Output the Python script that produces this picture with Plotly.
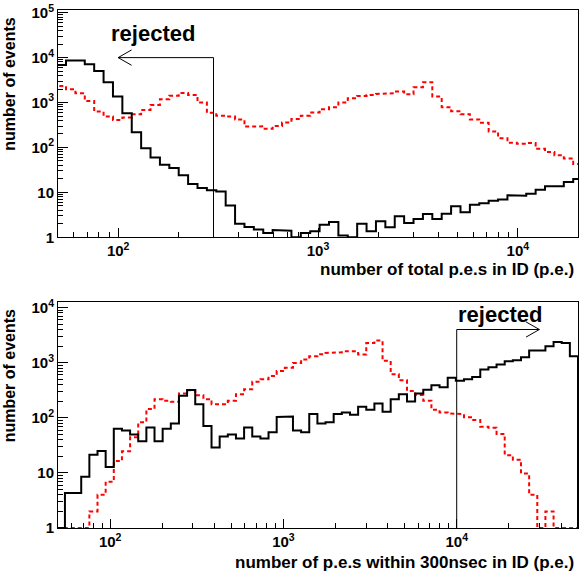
import numpy as np
import plotly.graph_objects as go

FONT = "Liberation Sans, Arial, Helvetica, sans-serif"

# histograms are binned in log10(p.e.) with a fixed step; bin k covers
# [10**(k*BIN_STEP), 10**((k+1)*BIN_STEP)]
BIN_STEP = 0.047

# --- top panel: total p.e.s in ID, first bin k=36 ---
top_first_bin = 36
top_black = [
    6850, 8570, 8570, 7100, 5040, 2830, 1360, 578, 219, 96,
    60, 41, 35, 24, 15.3, 12.5, 11.1, 10.5, 5.1, 2.0,
    1.69, 1.48, 1.25, 1.45, 1.4, 0, 1.25, 1.36, 1.9, 2.19,
    1.1, 1.0, 2.0, 1.36, 2.27, 1.67, 2.93, 2.08, 2.55, 3.3,
    2.55, 3.34, 4.9, 3.6, 5.3, 5.7, 6.5, 6.9, 8.6, 8.4,
    9.3, 11.4, 13.6, 13.6, 16.9, 19.8,
]
top_red = [
    2340, 1975, 1610, 1086, 631, 489, 410, 464, 550, 685,
    885, 1183, 1420, 1620, 1475, 1000, 590, 510, 489, 420,
    293, 295, 259, 300, 360, 430, 510, 600, 710, 787,
    1000, 1247, 1403, 1475, 1550, 1610, 1755, 1530, 2188, 2826,
    1360, 787, 640, 550, 420, 355, 227, 161, 127, 120,
    125, 93, 79, 67, 57, 43,
]

# --- bottom panel: p.e.s within 300 nsec in ID, first bin k=36 ---
bot_first_bin = 36
bot_black = [
    0, 4.3, 4.3, 8.5, 21.4, 24.9, 12.8, 63, 58.6, 49.7,
    37.7, 67, 37.7, 63, 79, 250, 320, 177, 71, 29,
    46, 50, 42, 67, 46, 42, 54.6, 103, 105, 58.6,
    54.6, 117, 79, 83, 117, 125, 114, 158, 140, 182,
    129, 218, 268, 197, 275, 324, 389, 360, 533, 470,
    500, 549, 755, 830, 927, 1064, 1109, 1256, 1656, 1656,
    1982, 2366, 2273, 1309,
]
bot_red = [
    0, 0, 0, 0, 2.0, 4.0, 6.9, 16.4, 24.6, 44.5,
    83, 144, 218, 203, 195, 275, 315, 257, 218, 177,
    177, 203, 268, 330, 452, 499, 571, 703, 807, 991,
    1143, 1309, 1420, 1500, 1545, 1610, 1610, 1403, 2273, 2540,
    1080, 620, 480, 307, 260, 203, 140, 125, 120, 117,
    102, 91, 69, 66, 51, 21, 17.4, 9.8, 4, 0,
    2, 0, 0, 0,
]

# cut values (p.e.) and arrow extents for the "rejected" markers
top_cut, top_arrow_end, top_arrow_level = 300, 100, 1e4
bot_cut, bot_arrow_end, bot_arrow_level = 1e4, 3e4, 4e3

y_floor = 1.0


def step_xy(first_bin, counts):
    edges = 10 ** (BIN_STEP * np.arange(first_bin, first_bin + len(counts) + 1))
    y = np.maximum(np.asarray(counts, dtype=float), y_floor)
    xs = np.repeat(edges, 2)
    ys = np.concatenate([[y_floor], np.repeat(y, 2), [y_floor]])
    return xs, ys


def arrow_xy(cut, end, level, dx, dy):
    # vertical cut line, horizontal arrow and an open arrow head
    sgn = 1 if end > cut else -1
    xs = [cut, cut, end, None, end * 10 ** (-sgn * dx), end, end * 10 ** (-sgn * dx)]
    ys = [y_floor, level, level, None, level * 10 ** dy, level, level / 10 ** dy]
    return xs, ys


fig = go.Figure()

black_line = dict(color="black", width=2)
red_line = dict(color="#ff0000", width=2, dash="4px,3px")

for first, vals, line, xa, ya in [
    (top_first_bin, top_red, red_line, "x", "y"),
    (top_first_bin, top_black, black_line, "x", "y"),
    (bot_first_bin, bot_red, red_line, "x2", "y2"),
    (bot_first_bin, bot_black, black_line, "x2", "y2"),
]:
    xs, ys = step_xy(first, vals)
    fig.add_trace(go.Scatter(x=xs, y=ys, mode="lines", line=line,
                             xaxis=xa, yaxis=ya, showlegend=False, hoverinfo="skip"))

xs, ys = arrow_xy(top_cut, top_arrow_end, top_arrow_level, 0.067, 0.171)
fig.add_trace(go.Scatter(x=xs, y=ys, mode="lines", line=dict(color="black", width=1),
                         xaxis="x", yaxis="y", showlegend=False, hoverinfo="skip"))
xs, ys = arrow_xy(bot_cut, bot_arrow_end, bot_arrow_level, 0.077, 0.138)
fig.add_trace(go.Scatter(x=xs, y=ys, mode="lines", line=dict(color="black", width=1),
                         xaxis="x2", yaxis="y2", showlegend=False, hoverinfo="skip"))


def decade_text(p):
    return {0: "1", 1: "10"}.get(p, f"10<sup>{p}</sup>")


def minor_vals(lo, hi):
    return [m * 10 ** d for d in range(lo, hi) for m in range(2, 10)]


tick_font = dict(family=FONT, size=15, color="black", weight="bold")
common = dict(type="log", showline=True, linecolor="black", linewidth=1, mirror=True,
              ticks="inside", tickcolor="black", showgrid=False, zeroline=False,
              tickfont=tick_font, ticklabeloverflow="allow")

x_major = [2, 3, 4]
y_top_major = [0, 1, 2, 3, 4, 5]
y_bot_major = [0, 1, 2, 3, 4]

xaxis_ticks = dict(tickmode="array", tickvals=[10 ** p for p in x_major],
                   ticktext=[decade_text(p) for p in x_major], ticklen=9,
                   minor=dict(ticks="inside", ticklen=5, tickcolor="black",
                              tickmode="array", tickvals=minor_vals(1, 5), showgrid=False))

fig.update_layout(
    width=581, height=573,
    margin=dict(l=58, r=2, t=6, b=45),
    paper_bgcolor="white", plot_bgcolor="white",
    xaxis=dict(**common, **xaxis_ticks, domain=[0, 1], anchor="y",
               range=[np.log10(50), np.log10(2e4)]),
    yaxis=dict(**common, domain=[0.5613, 1], anchor="x", range=[0, 5.06],
               tickmode="array", tickvals=[10 ** p for p in y_top_major],
               ticktext=[decade_text(p) for p in y_top_major], ticklen=10,
               minor=dict(ticks="inside", ticklen=5, tickcolor="black",
                          tickmode="array", tickvals=minor_vals(0, 5), showgrid=False)),
    xaxis2=dict(**common, **xaxis_ticks, domain=[0, 1], anchor="y2",
                range=[np.log10(50), 4.7]),
    yaxis2=dict(**common, domain=[0, 0.4368], anchor="x2", range=[0, 4.106],
                tickmode="array", tickvals=[10 ** p for p in y_bot_major],
                ticktext=[decade_text(p) for p in y_bot_major], ticklen=10,
                minor=dict(ticks="inside", ticklen=5, tickcolor="black",
                           tickmode="array", tickvals=minor_vals(0, 4), showgrid=False)),
)

title_font = dict(family=FONT, size=16, color="black", weight="bold")
label_font = dict(family=FONT, size=22, color="black", weight="bold")
annotations = [
    dict(text="number of events", xref="paper", yref="paper", x=-0.094, y=0.856,
         textangle=-90, font=title_font, showarrow=False, xanchor="center", yanchor="middle"),
    dict(text="number of events", xref="paper", yref="paper", x=-0.094, y=0.293,
         textangle=-90, font=title_font, showarrow=False, xanchor="center", yanchor="middle"),
    dict(text="number of total p.e.s in ID (p.e.)", xref="paper", yref="paper",
         x=0.996, y=0.499, xanchor="right", yanchor="middle",
         font=dict(title_font, size=17), showarrow=False),
    dict(text="number of p.e.s within 300nsec in ID (p.e.)", xref="paper", yref="paper",
         x=0.996, y=-0.067, xanchor="right", yanchor="middle",
         font=dict(title_font, size=17), showarrow=False),
    dict(text="rejected", xref="x", yref="y", x=np.log10(150), y=4.54,
         font=label_font, showarrow=False, xanchor="center", yanchor="middle"),
    dict(text="rejected", xref="x2", yref="y2", x=4.247, y=3.88,
         font=label_font, showarrow=False, xanchor="center", yanchor="middle"),
]
fig.update_layout(annotations=annotations)

# the page body gets the browser's default 8px margin otherwise
fig.write_html("out.html", config={"displayModeBar": False},
               post_script="document.body.style.margin='0';")
